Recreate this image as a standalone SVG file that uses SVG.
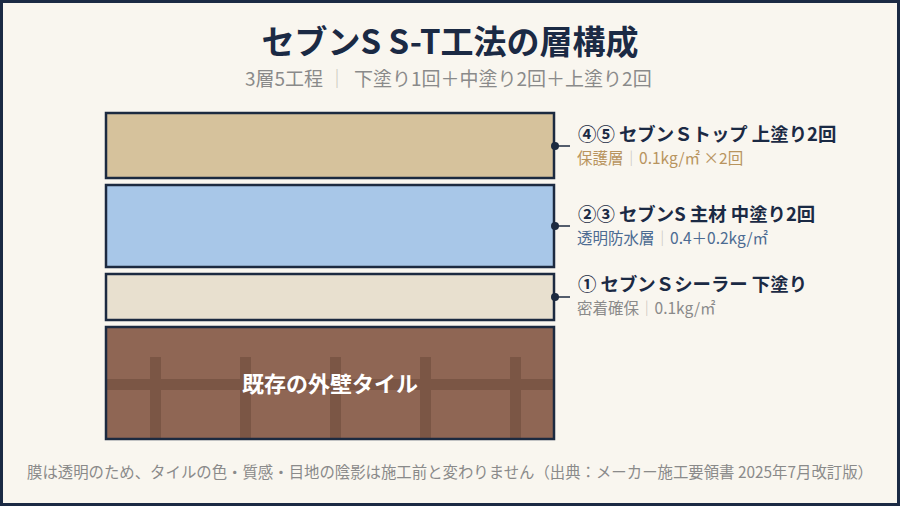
<svg xmlns="http://www.w3.org/2000/svg" width="900" height="506" viewBox="0 0 900 506">
<style>
.t{font-family:"Noto Sans CJK JP","Noto Sans",sans-serif}
.layer{stroke:#1C2A40;stroke-width:2.5}
.lbl{font-weight:700;font-size:18.4px;fill:#1B2A44}
.sub{font-size:15.5px}
.sep{fill:#C8C4BC}
.dot{fill:#1C2A40}
.ln{stroke:#1C2A40;stroke-width:1.5}
.grout{fill:#7B5645}
</style>
<rect x="1.5" y="1.5" width="897" height="503" fill="#F9F6EF" stroke="#1B2A44" stroke-width="3"/>
<text class="t" x="450" y="54" text-anchor="middle" font-size="33" font-weight="700" fill="#1B2A44">セブンS S-T工法の層構成</text>
<text class="t" y="86" font-size="19" fill="#8A8A8A"><tspan x="245">3層5工程</tspan><tspan class="sep" x="327.5">｜</tspan><tspan x="354">下塗り1回＋中塗り2回＋上塗り2回</tspan></text>
<g id="layer-top">
<rect class="layer" x="106" y="113" width="448" height="65" fill="#D6C29C"/>
</g>
<g id="layer-main">
<rect class="layer" x="106" y="185" width="448" height="82" fill="#A8C7E8"/>
</g>
<g id="layer-sealer">
<rect class="layer" x="106" y="274" width="448" height="46" fill="#E8E0CF"/>
</g>
<g id="layer-tile">
<rect x="106" y="327" width="448" height="112" fill="#8F6654"/>
<rect class="grout" x="107" y="379" width="446" height="11"/>
<rect class="grout" x="150" y="357" width="11" height="81"/>
<rect class="grout" x="240" y="357" width="11" height="81"/>
<rect class="grout" x="330" y="357" width="11" height="81"/>
<rect class="grout" x="420" y="357" width="11" height="81"/>
<rect class="grout" x="510" y="357" width="11" height="81"/>
<rect x="106" y="327" width="448" height="112" fill="none" class="layer"/>
<text class="t" x="330" y="392" text-anchor="middle" font-size="22" font-weight="700" fill="#FFFFFF">既存の外壁タイル</text>
</g>
<g id="connectors">
<line class="ln" x1="555" y1="146" x2="570" y2="146"/>
<circle class="dot" cx="555" cy="146" r="4"/>
<line class="ln" x1="555" y1="226" x2="570" y2="226"/>
<circle class="dot" cx="555" cy="226" r="4"/>
<line class="ln" x1="555" y1="297" x2="570" y2="297"/>
<circle class="dot" cx="555" cy="297" r="4"/>
</g>
<g id="label-top">
<text class="t lbl" x="578" y="141">④⑤ セブンＳトップ 上塗り2回</text>
<text class="t sub" x="577" y="164" fill="#B8945E">保護層<tspan class="sep">｜</tspan>0.1kg/㎡ ×2回</text>
</g>
<g id="label-main">
<text class="t lbl" x="578" y="221">②③ セブンS 主材 中塗り2回</text>
<text class="t sub" x="577" y="244" fill="#4C6B92">透明防水層<tspan class="sep">｜</tspan>0.4＋0.2kg/㎡</text>
</g>
<g id="label-sealer">
<text class="t lbl" x="578" y="291">① セブンＳシーラー 下塗り</text>
<text class="t sub" x="577" y="314" fill="#8A8A8A">密着確保<tspan class="sep">｜</tspan>0.1kg/㎡</text>
</g>
<text class="t" x="450" y="478" text-anchor="middle" font-size="15.4" fill="#8A8A8A">膜は透明のため、タイルの色・質感・目地の陰影は施工前と変わりません（出典：メーカー施工要領書 2025年7月改訂版）</text>
</svg>
